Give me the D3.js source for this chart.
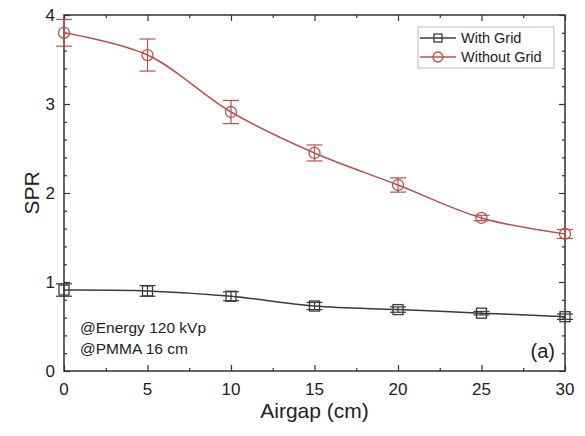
<!DOCTYPE html>
<html>
<head>
<meta charset="utf-8">
<script src="https://cdnjs.cloudflare.com/ajax/libs/d3/7.8.5/d3.min.js"></script>
<style>
  body { margin: 0; background: #fff; }
  text { font-family: "Liberation Sans", Arial, sans-serif; }
</style>
</head>
<body>
<svg width="585" height="436"></svg>
<script>
  const airgap = [0, 5, 10, 15, 20, 25, 30];
  const withGrid = [0.91, 0.90, 0.84, 0.73, 0.69, 0.65, 0.61];
  const withGridErr = [0.07, 0.06, 0.05, 0.04, 0.03, 0.02, 0.03];
  const withoutGrid = [3.80, 3.55, 2.91, 2.45, 2.09, 1.72, 1.54];
  const withoutGridErr = [0.15, 0.18, 0.13, 0.09, 0.08, 0.03, 0.05];
  const xTicks = [0, 5, 10, 15, 20, 25, 30];
  const yTicks = [0, 1, 2, 3, 4];

  const svg = d3.select('svg');
  const margin = {top: 15, right: 20, bottom: 65, left: 64};
  const width = +svg.attr('width');
  const height = +svg.attr('height');
  const innerWidth = width - margin.left - margin.right;
  const innerHeight = height - margin.top - margin.bottom;

  const xScale = d3.scaleLinear().domain([0, 30]).range([0, innerWidth]);
  const yScale = d3.scaleLinear().domain([0, 4]).range([innerHeight, 0]);

  const g = svg.append('g')
    .attr('transform', `translate(${margin.left}, ${margin.top})`);

  const axisColor = '#333';
  const minorX = d3.range(0, 30.01, 2.5).filter(v => v % 5 !== 0);
  const minorY = d3.range(0, 4.01, 0.2).filter(v => Math.abs(v - Math.round(v)) > 0.01);

  // frame
  g.append('rect')
    .attr('width', innerWidth).attr('height', innerHeight)
    .attr('fill', 'none').attr('stroke', axisColor).attr('stroke-width', 1.5);

  // ticks drawn by the axes, labels placed as plain text
  const ticksOnly = sel => {
    sel.select('.domain').remove();
    sel.selectAll('line').attr('stroke', axisColor).attr('stroke-width', 1.2);
    sel.selectAll('text').remove();
  };

  const tickAxes = [
    [d3.axisBottom(xScale).tickValues(xTicks).tickSize(-6), `translate(0,${innerHeight})`],
    [d3.axisBottom(xScale).tickValues(minorX).tickSize(-3), `translate(0,${innerHeight})`],
    [d3.axisTop(xScale).tickValues(xTicks).tickSize(-6), null],
    [d3.axisTop(xScale).tickValues(minorX).tickSize(-3), null],
    [d3.axisLeft(yScale).tickValues(yTicks).tickSize(-6), null],
    [d3.axisLeft(yScale).tickValues(minorY).tickSize(-3), null],
    [d3.axisRight(yScale).tickValues(yTicks).tickSize(-6), `translate(${innerWidth},0)`],
    [d3.axisRight(yScale).tickValues(minorY).tickSize(-3), `translate(${innerWidth},0)`]
  ];
  tickAxes.forEach(([axis, tr]) => {
    const ag = g.append('g').call(axis).call(ticksOnly);
    if (tr) ag.attr('transform', tr);
  });

  g.selectAll('.xlab').data(xTicks).enter().append('text')
    .attr('class', 'xlab')
    .attr('x', d => xScale(d)).attr('y', innerHeight + 24)
    .attr('text-anchor', 'middle').attr('font-size', 17).attr('fill', '#222')
    .text(d => d);
  g.selectAll('.ylab').data(yTicks).enter().append('text')
    .attr('class', 'ylab')
    .attr('x', -9).attr('y', d => yScale(d) + 6)
    .attr('text-anchor', 'end').attr('font-size', 17).attr('fill', '#222')
    .text(d => d);

  const series = [
    {name: 'With Grid', values: withGrid, err: withGridErr, color: '#3a3a3a', marker: 'square'},
    {name: 'Without Grid', values: withoutGrid, err: withoutGridErr, color: '#b9524c', marker: 'circle'}
  ];

  const line = d3.line()
    .x(d => xScale(d.x))
    .y(d => yScale(d.y))
    .curve(d3.curveCatmullRom.alpha(0.5));

  series.forEach(s => {
    const pts = airgap.map((x, i) => ({x, y: s.values[i], e: s.err[i]}));
    const sg = g.append('g');
    sg.append('path').datum(pts)
      .attr('d', line).attr('fill', 'none')
      .attr('stroke', s.color).attr('stroke-width', 1.5);

    const eb = sg.selectAll('.err').data(pts).enter().append('g');
    eb.append('line')
      .attr('x1', d => xScale(d.x)).attr('x2', d => xScale(d.x))
      .attr('y1', d => yScale(d.y + d.e)).attr('y2', d => yScale(d.y - d.e))
      .attr('stroke', s.color).attr('stroke-width', 1.2);
    [1, -1].forEach(sign => {
      eb.append('line')
        .attr('x1', d => xScale(d.x) - 8).attr('x2', d => xScale(d.x) + 8)
        .attr('y1', d => yScale(d.y + sign * d.e)).attr('y2', d => yScale(d.y + sign * d.e))
        .attr('stroke', s.color).attr('stroke-width', 1.2);
    });

    if (s.marker === 'circle') {
      sg.selectAll('circle').data(pts).enter().append('circle')
        .attr('cx', d => xScale(d.x)).attr('cy', d => yScale(d.y)).attr('r', 5.5)
        .attr('fill', 'none').attr('stroke', s.color).attr('stroke-width', 1.3);
    } else {
      sg.selectAll('rect').data(pts).enter().append('rect')
        .attr('x', d => xScale(d.x) - 5).attr('y', d => yScale(d.y) - 5)
        .attr('width', 10).attr('height', 10)
        .attr('fill', 'none').attr('stroke', s.color).attr('stroke-width', 1.3);
    }
  });

  // legend
  const lg = svg.append('g').attr('transform', 'translate(418, 27)');
  lg.append('rect').attr('width', 136).attr('height', 41)
    .attr('fill', '#fff').attr('stroke', '#bbb').attr('stroke-width', 1);
  series.forEach((s, i) => {
    const y = 11 + i * 19;
    lg.append('line').attr('x1', 2).attr('x2', 38).attr('y1', y).attr('y2', y)
      .attr('stroke', s.color).attr('stroke-width', 1.5);
    if (s.marker === 'circle') {
      lg.append('circle').attr('cx', 20).attr('cy', y).attr('r', 5)
        .attr('fill', 'none').attr('stroke', s.color).attr('stroke-width', 1.3);
    } else {
      lg.append('rect').attr('x', 16).attr('y', y - 4).attr('width', 8).attr('height', 8)
        .attr('fill', 'none').attr('stroke', s.color).attr('stroke-width', 1.3);
    }
    lg.append('text').attr('x', 43).attr('y', y + 5)
      .attr('font-size', 14.5).attr('fill', '#222').text(s.name);
  });

  // annotations
  g.append('text').attr('x', 16).attr('y', 318)
    .attr('font-size', 15.5).attr('fill', '#222').text('@Energy 120 kVp');
  g.append('text').attr('x', 16).attr('y', 339)
    .attr('font-size', 15.5).attr('fill', '#222').text('@PMMA 16 cm');
  g.append('text').attr('x', innerWidth - 10).attr('y', 343)
    .attr('text-anchor', 'end').attr('font-size', 20).attr('fill', '#222').text('(a)');

  // axis titles
  svg.append('text')
    .attr('x', margin.left + innerWidth / 2).attr('y', 418)
    .attr('text-anchor', 'middle').attr('font-size', 21).attr('fill', '#222')
    .text('Airgap (cm)');
  svg.append('text')
    .attr('transform', `translate(39, ${margin.top + innerHeight / 2}) rotate(-90)`)
    .attr('text-anchor', 'middle').attr('font-size', 21).attr('fill', '#222')
    .text('SPR');
</script>
</body>
</html>
